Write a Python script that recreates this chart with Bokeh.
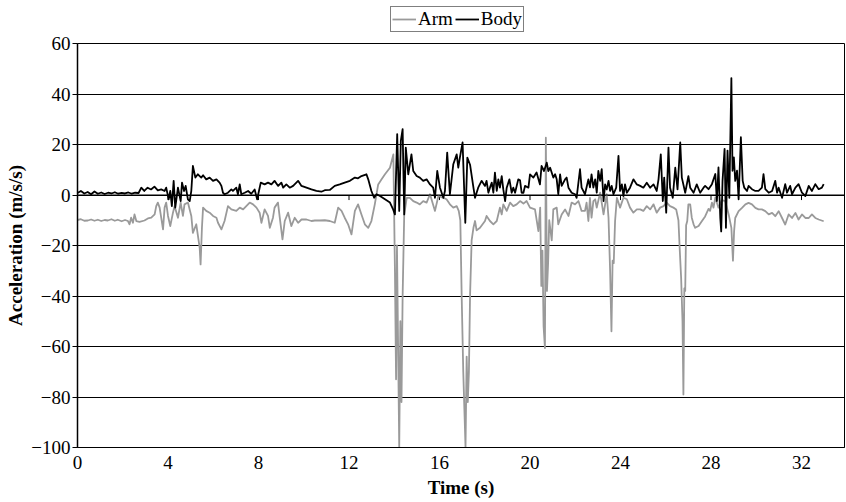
from bokeh.plotting import figure
from bokeh.layouts import column
from bokeh.models import (Range1d, FixedTicker, Legend, LegendItem, ColumnDataSource, Span)
from bokeh.embed import file_html
from bokeh.resources import INLINE

# time (s) and acceleration (m/s/s)
arm_t = [0.00, 0.15, 0.30, 0.46, 0.60, 0.75, 0.90, 1.05, 1.20, 1.34, 1.50, 1.65, 1.78, 1.95,
         2.10, 2.23, 2.30, 2.37, 2.45, 2.52, 2.60, 2.74, 2.96, 3.11, 3.26, 3.41, 3.48, 3.55,
         3.63, 3.70, 3.78, 3.85, 3.92, 4.00, 4.10, 4.22, 4.29, 4.44, 4.56, 4.66, 4.73, 4.88,
         5.03, 5.10, 5.25, 5.40, 5.44, 5.50, 5.55, 5.69, 5.84, 5.99, 6.14, 6.21, 6.36, 6.50,
         6.65, 6.80, 7.02, 7.17, 7.32, 7.46, 7.61, 7.76, 7.91, 8.05, 8.13, 8.27, 8.42, 8.50,
         8.64, 8.71, 8.86, 8.94, 9.06, 9.16, 9.31, 9.45, 9.60, 9.75, 9.90, 10.12, 10.34, 10.49,
         10.71, 10.93, 11.15, 11.37, 11.52, 11.67, 11.81, 11.96, 12.11, 12.26, 12.40, 12.55,
         12.70, 12.85, 12.99, 13.14, 13.29, 13.44, 13.59, 13.81, 13.96, 14.03, 14.08, 14.12,
         14.17, 14.22, 14.27, 14.32, 14.37, 14.44, 14.55, 14.69, 14.84, 14.99, 15.13, 15.28,
         15.43, 15.58, 15.80, 15.95, 16.17, 16.31, 16.46, 16.61, 16.76, 16.85, 16.92, 16.98,
         17.05, 17.10, 17.15, 17.20, 17.25, 17.30, 17.35, 17.42, 17.50, 17.57, 17.64, 17.79,
         18.01, 18.08, 18.23, 18.38, 18.53, 18.67, 18.75, 18.82, 18.97, 19.12, 19.26, 19.41,
         19.56, 19.71, 19.85, 20.00, 20.22, 20.37, 20.45, 20.50, 20.55, 20.60, 20.66, 20.70,
         20.75, 20.80, 20.85, 20.96, 21.03, 21.18, 21.25, 21.40, 21.55, 21.70, 21.84, 21.99,
         22.14, 22.28, 22.43, 22.50, 22.58, 22.65, 22.72, 22.80, 22.88, 22.95, 23.10, 23.25,
         23.32, 23.39, 23.47, 23.54, 23.60, 23.65, 23.70, 23.76, 23.84, 23.98, 24.13, 24.28,
         24.42, 24.57, 24.72, 24.87, 25.01, 25.16, 25.31, 25.46, 25.60, 25.75, 25.90, 26.04,
         26.19, 26.34, 26.46, 26.56, 26.62, 26.68, 26.74, 26.78, 26.82, 26.86, 26.90, 26.95,
         27.00, 27.08, 27.15, 27.23, 27.30, 27.45, 27.60, 27.74, 27.89, 27.96, 28.04, 28.11,
         28.19, 28.33, 28.48, 28.63, 28.78, 28.90, 28.97, 29.02, 29.07, 29.22, 29.37, 29.52,
         29.66, 29.81, 29.96, 30.10, 30.25, 30.40, 30.55, 30.70, 30.84, 30.99, 31.14, 31.28,
         31.43, 31.58, 31.73, 31.87, 32.02, 32.17, 32.32, 32.46, 32.61, 32.76, 32.98]
arm_a = [-9.9, -9.6, -10.2, -10.1, -9.7, -10.2, -9.8, -10.3, -9.9, -10.1, -9.6, -10.2, -9.8, -10.4,
         -9.9, -10.3, -11.6, -9.0, -11.0, -7.7, -10.3, -10.6, -10.1, -9.3, -9.0, -7.7, -4.4, -3.0,
         -5.0, -9.0, -13.6, -5.0, -3.0, -8.3, -12.3, -7.0, -4.4, -9.0, -3.0, -8.3, -3.7, -3.0,
         -8.3, -15.0, -11.6, -20.9, -27.5, -13.0, -5.0, -6.3, -7.0, -8.3, -9.0, -11.0, -13.6, -10.3,
         -4.4, -5.7, -6.3, -5.0, -5.7, -4.4, -3.0, -3.7, -5.0, -7.0, -11.0, -5.7, -8.3, -13.0,
         -9.0, -5.0, -3.0, -9.0, -17.6, -10.3, -7.0, -12.3, -9.0, -11.0, -9.7, -9.7, -10.3, -10.1,
         -10.1, -10.0, -10.3, -11.0, -5.0, -6.3, -9.0, -11.6, -15.6, -6.3, -3.7, -7.7,
         -11.6, -13.0, -10.3, -3.7, 4.2, 6.2, 8.2, 10.8, 16.1, -30, -73, -20,
         -60, -100, -50, -82, -40, -8, -1.1, -1.1, -2.4, -3.0, -3.7, -2.4,
         -3.0, 0.3, -6.3, -0.4, -1.1, -1.7, -3.7, -5.0, -4.4, -6.3, -10, -40,
         -70, -85, -100, -64, -82, -70, -40, -18, -13.0, -10.3, -14, -13.0,
         -10.3, -8.3, -10.3, -11.6, -10.3, -5.0, -7.7, -3.7, -6.3, -3.0, -4.4, -3.7,
         -2.4, -3.4, -2.4, -5.0, -5.7, -14.3, -5.0, -36, -22, -52, -60.6, 22.7,
         -38, -27, -10, -18, -5.7, -5.0, -11.6, -7.7, -5.7, -8.3, -3.0, -3.7,
         -2.4, -6.3, -6.3, -3.0, -10.3, -1.1, -9.0, -2.4, -1.7, -5.0, 0.9, -7.7,
         -3.7, 0.3, -9.0, -30, -54, -26, -27, -10.3, -1.1, -5.0, -1.1, -1.7,
         -5.0, -7.0, -5.7, -5.7, -6.3, -4.4, -5.7, -3.7, -7.0, -5.0, -4.4, -3.0,
         -4.4, -5.0, -5.7, -10, -22, -33, -50, -79, -37, -38, -12, -10.3,
         -3.7, -3.7, -9.0, -11.6, -13.0, -12.3, -10.3, -8.5, -5.5, -6.3, -3.0, -5.0,
         -1.0, -5.0, -2.0, -2.4, -7.7, -13.0, -26.0, -14.4, -9.1, -6.4, -5.1, -3.7,
         -3.1, -3.7, -5.1, -5.7, -5.7, -6.4, -7.7, -7.1, -8.4, -6.4, -9.1, -11.7,
         -7.7, -9.1, -7.1, -9.7, -7.7, -9.1, -9.1, -7.7, -9.1, -9.7, -10.4]

body_t = [0.00, 0.15, 0.30, 0.45, 0.60, 0.75, 0.90, 1.05, 1.20, 1.35, 1.50, 1.65, 1.80, 1.95,
          2.10, 2.25, 2.40, 2.55, 2.70, 2.82, 2.95, 3.10, 3.25, 3.40, 3.55, 3.70, 3.85, 3.92,
          4.03, 4.10, 4.17, 4.25, 4.32, 4.44, 4.56, 4.62, 4.71, 4.78, 4.88, 4.96, 5.03, 5.10,
          5.21, 5.32, 5.40, 5.47, 5.55, 5.69, 5.84, 5.99, 6.14, 6.28, 6.36, 6.43, 6.50, 6.65,
          6.80, 6.87, 7.02, 7.09, 7.17, 7.24, 7.39, 7.54, 7.68, 7.83, 7.94, 8.02, 8.10, 8.27,
          8.42, 8.57, 8.71, 8.87, 9.01, 9.09, 9.23, 9.38, 9.53, 9.75, 9.90, 10.12, 10.34, 10.56,
          10.78, 10.93, 11.15, 11.37, 11.59, 11.81, 12.04, 12.26, 12.40, 12.55, 12.77, 12.85,
          12.99, 13.11, 13.22, 13.37, 13.59, 13.81, 13.95, 14.03, 14.13, 14.22, 14.29, 14.37,
          14.44, 14.51, 14.62, 14.76, 14.84, 14.99, 15.13, 15.28, 15.43, 15.58, 15.72, 15.80,
          15.90, 16.02, 16.17, 16.24, 16.34, 16.46, 16.61, 16.76, 16.83, 16.90, 17.02, 17.14,
          17.23, 17.35, 17.50, 17.57, 17.71, 17.86, 18.01, 18.08, 18.16, 18.23, 18.31, 18.38,
          18.45, 18.53, 18.60, 18.67, 18.75, 18.82, 18.90, 18.97, 19.09, 19.19, 19.26, 19.34,
          19.48, 19.56, 19.63, 19.71, 19.78, 19.93, 20.00, 20.15, 20.29, 20.44, 20.51, 20.62,
          20.74, 20.81, 20.89, 21.03, 21.11, 21.18, 21.25, 21.33, 21.40, 21.55, 21.62, 21.70,
          21.84, 21.99, 22.06, 22.21, 22.28, 22.43, 22.58, 22.65, 22.72, 22.80, 22.88, 22.95,
          23.02, 23.10, 23.17, 23.25, 23.32, 23.39, 23.47, 23.54, 23.61, 23.69, 23.81, 23.91,
          23.98, 24.06, 24.13, 24.20, 24.28, 24.42, 24.57, 24.72, 24.87, 25.01, 25.16, 25.31,
          25.46, 25.60, 25.68, 25.78, 25.87, 25.93, 26.02, 26.12, 26.19, 26.31, 26.42, 26.52,
          26.64, 26.71, 26.86, 27.00, 27.08, 27.23, 27.37, 27.52, 27.67, 27.74, 27.89, 28.04,
          28.19, 28.26, 28.33, 28.41, 28.45, 28.51, 28.60, 28.66, 28.73, 28.81, 28.90, 28.95,
          29.01, 29.07, 29.15, 29.22, 29.32, 29.40, 29.47, 29.59, 29.66, 29.81, 29.96, 30.10,
          30.25, 30.32, 30.40, 30.55, 30.70, 30.84, 30.92, 30.99, 31.14, 31.28, 31.36, 31.50,
          31.58, 31.73, 31.87, 32.02, 32.17, 32.32, 32.46, 32.61, 32.76, 32.90, 32.98]
body_a = [0.8, 1.6, 0.6, 1.2, 0.3, 1.4, 0.5, 1.0, 0.4, 0.9, 0.6, 1.1, 0.5, 0.8,
          0.6, 1.0, 0.5, 0.9, 0.8, 2.9, 1.6, 2.9, 2.2, 3.3, 1.8, 2.2, 1.6, 2.9,
          -1.7, 1.6, -4.4, 5.6, -5.0, 2.9, -2.4, 4.9, 1.6, 3.6, -1.7, -2.4, 1.6, 11.5,
          6.9, 8.2, 7.5, 6.9, 7.8, 6.2, 6.9, 5.6, 6.2, 4.9, 3.6, 0.9, 0.3, 0.9,
          2.2, 1.6, 2.9, 0.3, 4.2, 0.3, 0.9, 1.6, 0.5, 2.2, -1.7, 1.6, 4.9, 4.2,
          4.9, 4.2, 5.6, 3.6, 4.9, 2.9, 4.2, 2.9, 3.6, 5.6, 3.6, 2.9, 2.2, 1.6,
          1.3, 1.9, 2.0, 3.6, 4.2, 4.9, 5.6, 6.9, 6.6, 7.5, 8.2, 6.2,
          1.6, -1.1, 0.3, -0.4, -1.7, -3.0, -5.7, -7.7, 24.1, -6.3, 21.4, 26.1,
          -7.7, 18.8, 8.2, 16.1, 9.5, 7.5, 6.9, 5.6, 6.2, 4.2, 2.9, -1.1,
          9.5, 2.9, -1.1, 1.6, 16.8, 0.3, 12.2, 16.1, 10.8, 14.8, 20.8, -11.0,
          14.8, 12.0, 2.9, -1.1, 2.9, 5.6, 3.6, 5.6, 0.9, 2.9, 4.9, 0.9,
          8.9, 1.6, 6.2, 2.9, 7.5, 2.2, -2.4, 2.9, 6.2, 0.9, 2.9, 0.9,
          6.2, 5.8, 0.9, 0.9, 3.6, 2.9, 8.2, 6.9, 8.9, 4.2, 11.5, 9.5,
          12.8, 9.5, 10.8, 6.9, 8.2, 6.2, 0.3, 8.2, 3.6, 6.2, 6.9, 2.9,
          0.9, 0.3, -1.1, 10.2, 2.9, 0.3, 6.2, 3.0, 8.2, 2.9, 6.2, 0.9,
          9.5, 5.6, 10.2, -2.4, 4.2, 2.2, 5.6, 1.6, 3.6, 0.3, 2.9, 15.5,
          1.6, 4.2, -0.4, 4.2, 0.9, 2.9, 6.2, 4.2, 3.6, 2.9, 4.9, 2.9,
          4.2, 1.6, 6.2, 16.1, -2.4, 6.9, -7.0, 18.8, 2.9, -1.1, 10.8, 2.2,
          20.8, 6.9, 0.9, 7.5, 2.9, 0.9, 4.2, 0.9, 2.9, 3.6, 2.3, 4.3,
          8.3, -2.4, 10.9, -9.1, -14.4, 5.6, 18.3, -13.0, 17.6, -1.1, 46.3, 9.6,
          14.9, 5.6, 9.6, -1.7, 22.9, 5.6, 2.9, 1.6, 3.6, 2.3, 1.6, 1.6,
          2.9, 8.3, 2.3, 0.9, 1.6, 5.6, 0.9, 2.9, -1.1, 4.3, 0.9, 3.6,
          0.3, 2.9, 4.3, 0.9, -0.4, 3.6, 1.6, 4.3, 2.3, 2.9, 4.3]

x_ticks = [0, 4, 8, 12, 16, 20, 24, 28, 32]
y_ticks = [-100, -80, -60, -40, -20, 0, 20, 40, 60]
y_labels = {60: "60", 40: "40", 20: "20", 0: "0", -20: "\u221220", -40: "\u221240",
            -60: "\u221260", -80: "\u221280", -100: "\u2212100"}
series_names = ["Arm", "Body"]
series_colors = ["#9a9a9a", "black"]

FONT = "Liberation Serif"

p = figure(width=846, height=467, output_backend="svg", toolbar_location=None,
           x_range=Range1d(0, 33.9), y_range=Range1d(-100, 60),
           min_border_left=77, min_border_right=2, min_border_top=10, min_border_bottom=4)
p.background_fill_color = "white"
p.border_fill_color = "white"
p.outline_line_color = "black"
p.outline_line_width = 1

arm_src = ColumnDataSource(data=dict(t=arm_t, a=arm_a))
body_src = ColumnDataSource(data=dict(t=body_t, a=body_a))

# horizontal axis crossing at zero: line plus short tick marks below it
p.add_layout(Span(location=0, dimension="width", line_color="black", line_width=1.2))
tick_src = ColumnDataSource(data=dict(x=x_ticks, y0=[0] * len(x_ticks), y1=[-2] * len(x_ticks)))
p.segment(x0="x", y0="y0", x1="x", y1="y1", source=tick_src, line_color="black", line_width=1)

p.line("t", "a", source=arm_src, line_color=series_colors[0], line_width=1.8, line_join="round")
p.line("t", "a", source=body_src, line_color=series_colors[1], line_width=1.8, line_join="round")

# axes
p.xaxis.ticker = FixedTicker(ticks=x_ticks)
p.xaxis.axis_line_color = "black"
p.xaxis.major_tick_line_color = None
p.xaxis.minor_tick_line_color = None
p.xaxis.major_label_standoff = 2
p.xaxis.axis_label = "Time (s)"
p.xaxis.axis_label_standoff = 5

p.yaxis.ticker = FixedTicker(ticks=y_ticks)
p.yaxis.major_label_overrides = y_labels
p.yaxis.axis_line_color = "black"
p.yaxis.axis_line_width = 1.5
p.yaxis.major_tick_out = 5
p.yaxis.major_tick_in = 0
p.yaxis.minor_tick_line_color = None
p.yaxis.major_label_standoff = 2
p.yaxis.axis_label = "Acceleration (m/s/s)"
p.yaxis.axis_label_standoff = 2

for ax in (p.xaxis, p.yaxis):
    ax.major_label_text_font = FONT
    ax.major_label_text_font_size = "19px"
    ax.major_label_text_color = "black"
    ax.axis_label_text_font = FONT
    ax.axis_label_text_font_size = "19px"
    ax.axis_label_text_font_style = "bold"
    ax.axis_label_text_color = "black"

p.xgrid.grid_line_color = None
p.ygrid.ticker = FixedTicker(ticks=y_ticks)
p.ygrid.grid_line_color = "black"
p.ygrid.grid_line_width = 1

# legend strip above the plot (its own small figure, only legend swatches)
lf = figure(width=846, height=33, output_backend="svg", toolbar_location=None,
            x_range=Range1d(0, 1), y_range=Range1d(0, 1), x_axis_type=None, y_axis_type=None,
            min_border_left=0, min_border_right=0, min_border_top=0, min_border_bottom=0)
lf.outline_line_color = None
lf.xgrid.visible = False
lf.ygrid.visible = False
items = []
for name, color in zip(series_names, series_colors):
    r = lf.line(x=[float("nan")], y=[float("nan")], line_color=color, line_width=1.8)
    items.append(LegendItem(label=name, renderers=[r]))
# the strip's frame is aligned with the main plot's frame (left edge at 77px)
legend = Legend(items=items, orientation="horizontal", location=(313, 1))
legend.label_text_font = FONT
legend.label_text_font_size = "19px"
legend.label_text_color = "black"
legend.border_line_color = "black"
legend.border_line_width = 1
legend.padding = 1
legend.spacing = 2
legend.margin = 0
legend.glyph_width = 24
legend.glyph_height = 18
legend.label_height = 18
legend.label_standoff = 2
lf.add_layout(legend)

page = column(lf, p, spacing=0)
open("out.html", "w").write(file_html(page, INLINE))
